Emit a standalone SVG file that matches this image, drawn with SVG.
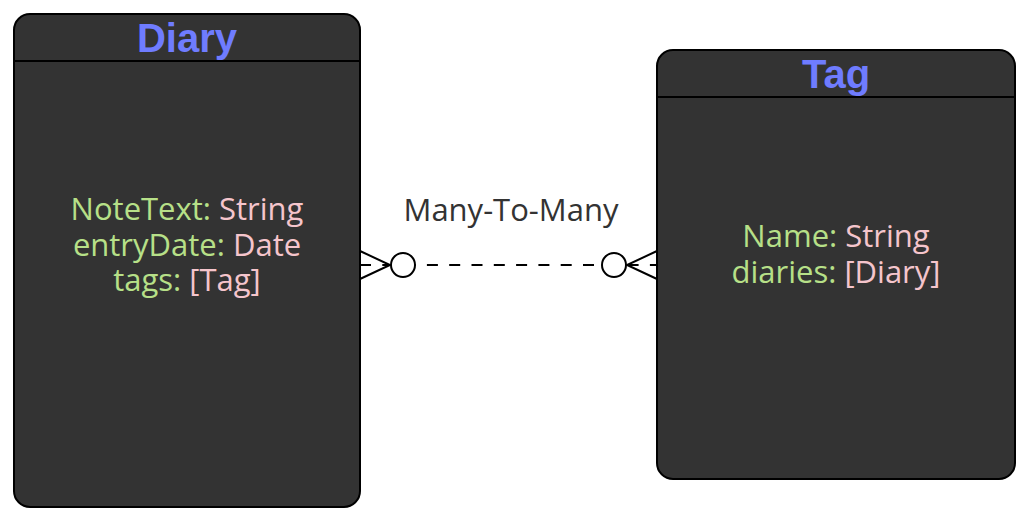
<svg xmlns="http://www.w3.org/2000/svg" width="1016" height="508" viewBox="0 0 1016 508">
  <style>
    .box { fill: #333333; stroke: #000000; stroke-width: 2; }
    .divider { stroke: #000000; stroke-width: 2; }
    .title { font-family: "Liberation Sans", Arial, sans-serif; font-weight: bold; font-size: 40px; fill: #6f7cff; text-anchor: middle; }
    .attr { font-family: "Open Sans", "Noto Sans", sans-serif; font-size: 31px; text-anchor: middle; }
    .name { fill: #b7e088; }
    .type { fill: #f5c5cc; }
    .label { font-family: "Open Sans", "Noto Sans", sans-serif; font-size: 31px; fill: #333333; text-anchor: middle; }
    .edge { fill: none; stroke: #000000; stroke-width: 2; }
    .dash { stroke-dasharray: 11 11.3; }
    .ring { fill: #ffffff; stroke: #000000; stroke-width: 2; }
  </style>

  <rect width="1016" height="508" fill="#ffffff"/>

  <!-- Diary entity -->
  <g id="diary">
    <rect class="box" x="14" y="14" width="346" height="493" rx="16" ry="16"/>
    <line class="divider" x1="14" y1="61" x2="360" y2="61"/>
    <text class="title" x="187" y="52">Diary</text>
    <text class="attr" x="187" y="220"><tspan class="name">NoteText:</tspan> <tspan class="type">String</tspan></text>
    <text class="attr" x="187" y="255.5"><tspan class="name">entryDate:</tspan> <tspan class="type">Date</tspan></text>
    <text class="attr" x="187" y="291"><tspan class="name">tags:</tspan> <tspan class="type">[Tag]</tspan></text>
  </g>

  <!-- Tag entity -->
  <g id="tag">
    <rect class="box" x="657" y="50" width="358" height="429" rx="16" ry="16"/>
    <line class="divider" x1="657" y1="97" x2="1015" y2="97"/>
    <text class="title" x="836" y="88">Tag</text>
    <text class="attr" x="836" y="247"><tspan class="name">Name:</tspan> <tspan class="type">String</tspan></text>
    <text class="attr" x="836" y="282.5"><tspan class="name">diaries:</tspan> <tspan class="type">[Diary]</tspan></text>
  </g>

  <!-- many-to-many relationship -->
  <g id="connectors">
    <line class="edge dash" x1="360" y1="265" x2="657" y2="265"/>
    <!-- crow's foot at Diary end -->
    <polyline class="edge" points="360,251 390,265 360,279"/>
    <circle class="ring" cx="403" cy="265" r="12"/>
    <!-- crow's foot at Tag end -->
    <polyline class="edge" points="657,251 627,265 657,279"/>
    <circle class="ring" cx="614" cy="265" r="12"/>
    <text class="label" x="511" y="221">Many-To-Many</text>
  </g>
</svg>
